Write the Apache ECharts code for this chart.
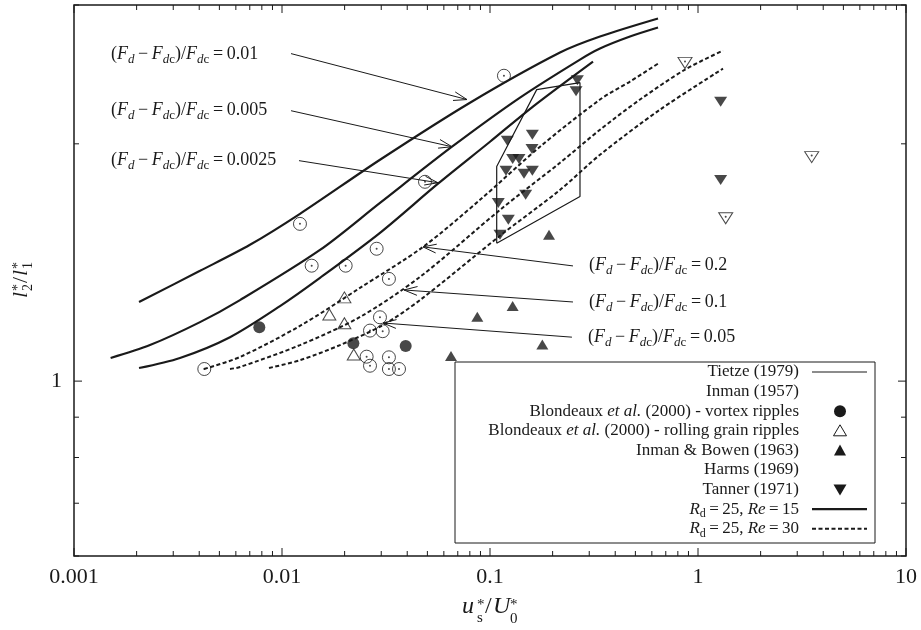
<!DOCTYPE html>
<html><head><meta charset="utf-8">
<script src="https://cdn.jsdelivr.net/npm/echarts@6/dist/echarts.min.js"></script>
<style>html,body{margin:0;padding:0;background:#fff}#c{width:921px;height:630px}</style>
</head><body><div id="c"></div>
<script>
const FONT = '"Liberation Serif","Times New Roman",serif';
const INK = '#1a1a1a';

// ---- axes ----
const xRange = [0.001, 10];
const yRange = [0.6, 3];
const xMajorTicks = [0.001, 0.01, 0.1, 1, 10];
const xTickLabels = ['0.001', '0.01', '0.1', '1', '10'];
const yMajorTicks = [1];
const yTickLabels = ['1'];
const yMinorTicks = [0.6, 0.7, 0.8, 0.9, 2, 3];

// ---- measured data ----
const inman1957 = [[0.1167,2.44],[0.0487,1.79],[0.0122,1.583],[0.01389,1.401],[0.02023,1.401],[0.02851,1.472],
  [0.03266,1.348],[0.004231,1.036],[0.02958,1.205],[0.02649,1.159],[0.03048,1.157],[0.02552,1.074],
  [0.02649,1.046],[0.03266,1.072],[0.03266,1.036],[0.03652,1.036]];
const blondeauxVortex = [[0.00778,1.170],[0.02203,1.117],[0.03932,1.108]];
const blondeauxRolling = [[0.01995,1.277],[0.01689,1.215],[0.01995,1.184],[0.02213,1.081]];
const inmanBowen1963 = [[0.1922,1.533],[0.1285,1.245],[0.0869,1.207],[0.1785,1.113],[0.06494,1.076]];
const harms1969 = [[0.866,2.533],[3.521,1.924],[1.359,1.609]];
const tanner1971 = [[0.2630,2.408],[0.2592,2.332],[0.1598,2.054],[0.1211,2.018],[0.1592,1.970],[0.1285,1.913],
  [0.1378,1.913],[0.1194,1.849],[0.1457,1.832],[0.1598,1.849],[0.1484,1.723],[0.1096,1.682],[0.1225,1.602],
  [0.1117,1.533],[1.285,2.261],[1.285,1.800]];
const tietze1979 = [[0.1077,1.496],[0.1077,1.872],[0.1677,2.343],[0.2708,2.391],[0.2708,1.715],[0.1077,1.496]];

// Rd = 25, Re = 15 (solid)
const re15_001 = [[0.002054,1.260],[0.004035,1.380],[0.007015,1.489],[0.01220,1.630],[0.02959,1.909],
  [0.08013,2.255],[0.2170,2.611],[0.3379,2.736],[0.6424,2.884]];
const re15_0005 = [[0.0015,1.070],[0.002319,1.111],[0.004035,1.188],[0.006281,1.267],[0.01523,1.467],[0.02959,1.683],
  [0.06566,1.983],[0.1394,2.289],[0.2708,2.558],[0.3379,2.642],[0.4710,2.736],[0.6424,2.809]];
const re15_00025 = [[0.002054,1.039],[0.003232,1.070],[0.005623,1.137],[0.009781,1.245],[0.01523,1.352],[0.02959,1.542],
  [0.05623,1.780],[0.1,2.012],[0.1609,2.230],[0.3128,2.543]];
// Rd = 25, Re = 30 (dashed)
const re30_02 = [[0.004217,1.036],[0.006281,1.073],[0.01220,1.175],[0.02371,1.313],[0.04764,1.480],[0.08953,1.698],
  [0.1739,1.983],[0.3379,2.276],[0.4710,2.399],[0.6424,2.528]];
const re30_01 = [[0.005623,1.036],[0.006281,1.042],[0.01220,1.111],[0.02371,1.206],[0.04608,1.356],[0.1117,1.649],
  [0.2170,1.892],[0.3379,2.084],[0.5263,2.276],[0.8660,2.484],[1.319,2.626]];
const re30_005 = [[0.008660,1.039],[0.01220,1.063],[0.01900,1.111],[0.03058,1.178],[0.04608,1.267],[0.1117,1.529],
  [0.2170,1.748],[0.3379,1.937],[0.6568,2.210],[1.319,2.491]];

// annotation arrows: [fromX, fromY, toX, toY]
const annoValues = ['0.01', '0.005', '0.0025', '0.2', '0.1', '0.05'];
const annoArrows = [[0.01105,2.603,0.0775,2.276],[0.01105,2.203,0.06566,1.983],[0.01207,1.904,0.05623,1.785],
  [0.2506,1.400,0.04764,1.480],[0.2506,1.260,0.03859,1.305],[0.2477,1.137,0.03058,1.185]];

const legendLabels = ['Tietze (1979)', 'Inman (1957)', 'Blondeaux et al. (2000) - vortex ripples',
  'Blondeaux et al. (2000) - rolling grain ripples', 'Inman & Bowen (1963)', 'Harms (1969)', 'Tanner (1971)',
  'Rd = 25, Re = 15', 'Rd = 25, Re = 30'];

// ---- helpers ----
function richStyles(fs) {
  const sfs = Math.round(fs * 0.7);
  const b = {fontFamily: FONT, fill: INK, color: INK};
  return {
    n: Object.assign({}, b, {fontSize: fs, lineHeight: fs + 4}),
    i: Object.assign({}, b, {fontSize: fs, fontStyle: 'italic', lineHeight: fs + 4}),
    sub: Object.assign({}, b, {fontSize: sfs, lineHeight: sfs + 2, padding: [Math.round(fs * 0.6), 0, 0, 0]}),
    subi: Object.assign({}, b, {fontSize: sfs, fontStyle: 'italic', lineHeight: sfs + 2, padding: [Math.round(fs * 0.6), 0, 0, 0]})
  };
}
function annoRich(v) {
  return '{n|(}{i|F}{subi|d}{n|\u2009\u2212\u2009}{i|F}{subi|d}{sub|c}{n|)/}{i|F}{subi|d}{sub|c}{n|\u2009=\u2009' + v + '}';
}
function legendRich(label) {
  let m = label.match(/^Rd = (\S+), Re = (\S+)$/);
  if (m) return '{i|R}{sub|d}{n|\u2009=\u2009' + m[1] + ', }{i|Re}{n|\u2009=\u2009' + m[2] + '}';
  const parts = label.split('et al.');
  if (parts.length === 2) return '{n|' + parts[0] + '}{i|et al.}{n|' + parts[1] + '}';
  return '{n|' + label + '}';
}
function labelFor(v, ticks, labels) {
  for (let i = 0; i < ticks.length; i++) {
    if (Math.abs(Math.log10(v) - Math.log10(ticks[i])) < 1e-6) return labels[i];
  }
  return '';
}

// tick items: [x, y, kind] kind 0 x-major, 1 x-minor, 2 y-major, 3 y-minor
const tickItems = [];
xMajorTicks.forEach(v => tickItems.push([v, yRange[0], 0]));
for (let e = -3; e < 1; e++) for (let k = 2; k <= 9; k++) tickItems.push([k * Math.pow(10, e), yRange[0], 1]);
yMajorTicks.forEach(v => tickItems.push([xRange[0], v, 2]));
yMinorTicks.forEach(v => tickItems.push([xRange[0], v, 3]));

const solid = w => ({color: INK, width: w, type: 'solid'});
const dashed = {color: INK, width: 2, type: [4, 2.5]};
function curve(name, data, ls) {
  return {type: 'line', name, data, showSymbol: false, smooth: 0.3, lineStyle: ls, silent: true, z: 3};
}
function pts(name, data, symbol, size, filled, rotate) {
  return {type: 'scatter', name, data, symbol, symbolSize: size, symbolRotate: rotate || 0, silent: true, z: 5,
    itemStyle: filled ? {color: INK} : {color: 'rgba(0,0,0,0)', borderColor: INK, borderWidth: 1}};
}
function dots(data, offset) {
  return {type: 'scatter', data, symbol: 'circle', symbolSize: 2, symbolOffset: offset || [0, 0], silent: true, z: 6,
    itemStyle: {color: INK}};
}

// ---- graphic: legend, annotation labels, axis titles ----
const graphics = [];
const LB = {x: 455, y: 362, w: 420, h: 181};
graphics.push({type: 'rect', shape: {x: LB.x, y: LB.y, width: LB.w, height: LB.h},
  style: {fill: '#fff', stroke: INK, lineWidth: 1}, z: 20});
const rowY0 = 372, rowStep = 19.6, textRight = 799, symX = 840;
legendLabels.forEach((lab, i) => {
  const y = rowY0 + i * rowStep;
  graphics.push({type: 'text', x: textRight, y: y, z: 21,
    style: {text: legendRich(lab), rich: richStyles(17), align: 'right', verticalAlign: 'middle'}});
  let icon = null;
  if (i === 0) icon = {type: 'line', shape: {x1: 812, y1: y, x2: 867, y2: y}, style: {stroke: INK, lineWidth: 1.2}};
  if (i === 7) icon = {type: 'line', shape: {x1: 812, y1: y, x2: 867, y2: y}, style: {stroke: INK, lineWidth: 2.2}};
  if (i === 8) icon = {type: 'line', shape: {x1: 812, y1: y, x2: 867, y2: y}, style: {stroke: INK, lineWidth: 2, lineDash: [4, 2.5]}};
  if (i === 1) icon = {type: 'group', children: [
    {type: 'circle', shape: {cx: symX, cy: y, r: 6.3}, style: {fill: 'none', stroke: INK, lineWidth: 1}},
    {type: 'circle', shape: {cx: symX, cy: y, r: 0.9}, style: {fill: INK}}]};
  if (i === 2) icon = {type: 'circle', shape: {cx: symX, cy: y, r: 6}, style: {fill: INK}};
  if (i === 3) icon = {type: 'polygon', shape: {points: [[symX, y - 6], [symX + 6.5, y + 5], [symX - 6.5, y + 5]]}, style: {fill: 'none', stroke: INK, lineWidth: 1}};
  if (i === 4) icon = {type: 'polygon', shape: {points: [[symX, y - 6], [symX + 6, y + 5], [symX - 6, y + 5]]}, style: {fill: INK}};
  if (i === 5) icon = {type: 'group', children: [
    {type: 'polygon', shape: {points: [[symX, y + 6], [symX + 7, y - 5], [symX - 7, y - 5]]}, style: {fill: 'none', stroke: INK, lineWidth: 1}},
    {type: 'circle', shape: {cx: symX, cy: y - 1.5, r: 0.9}, style: {fill: INK}}]};
  if (i === 6) icon = {type: 'polygon', shape: {points: [[symX, y + 6], [symX + 6.5, y - 5], [symX - 6.5, y - 5]]}, style: {fill: INK}};
  if (icon) { icon.z = 21; graphics.push(icon); }
});
const annoPos = [[111, 54], [111, 110], [111, 160], [589, 265], [589, 302], [588, 337]];
annoValues.forEach((v, i) => {
  graphics.push({type: 'text', x: annoPos[i][0], y: annoPos[i][1], z: 10,
    style: {text: annoRich(v), rich: richStyles(18), align: 'left', verticalAlign: 'middle'}});
});
function t(str, x, y, size, italic) {
  return {type: 'text', x, y, style: {text: str, font: (italic ? 'italic ' : '') + size + 'px ' + FONT, fill: INK,
    align: 'left', verticalAlign: 'middle'}};
}
// x axis title u*_s / U*_0
graphics.push({type: 'group', z: 10, children: [
  t('u', 462, 607, 24, true), t('*', 477, 605, 15), t('s', 477, 618, 15),
  t('/', 485, 607, 24), t('U', 493, 607, 24, true), t('*', 510, 605, 15), t('0', 510, 619, 15)
]});
// y axis title l*_2 / l*_1 (rotated)
graphics.push({type: 'group', x: 21, y: 281, rotation: Math.PI / 2, z: 10, children: [
  t('l', -17, 0, 22, true), t('*', -10, -3, 14), t('2', -10, 7, 14),
  t('/', -2, 0, 22), t('l', 5, 0, 22, true), t('*', 12, -3, 14), t('1', 12, 7, 14)
]});

const option = {
  animation: false,
  backgroundColor: '#fff',
  grid: {left: 74, right: 15, top: 5, bottom: 74, show: true, borderColor: INK, borderWidth: 1.5, backgroundColor: 'transparent'},
  xAxis: {type: 'log', logBase: 10, min: xRange[0], max: xRange[1],
    axisLine: {show: false}, axisTick: {show: false}, splitLine: {show: false}, minorTick: {show: false},
    axisLabel: {fontFamily: FONT, fontSize: 22, color: INK, margin: 10,
      formatter: v => labelFor(v, xMajorTicks, xTickLabels)}},
  yAxis: {type: 'log', logBase: 10, min: yRange[0], max: yRange[1],
    axisLine: {show: false}, axisTick: {show: false}, splitLine: {show: false}, minorTick: {show: false},
    axisLabel: {fontFamily: FONT, fontSize: 22, color: INK, margin: 12,
      formatter: v => labelFor(v, yMajorTicks, yTickLabels)}},
  series: [
    curve('Rd = 25, Re = 15', re15_001, solid(2.2)),
    curve('Rd = 25, Re = 15 (0.005)', re15_0005, solid(2.2)),
    curve('Rd = 25, Re = 15 (0.0025)', re15_00025, solid(2.2)),
    curve('Rd = 25, Re = 30', re30_02, dashed),
    curve('Rd = 25, Re = 30 (0.1)', re30_01, dashed),
    curve('Rd = 25, Re = 30 (0.05)', re30_005, dashed),
    {type: 'line', name: 'Tietze (1979)', data: tietze1979, showSymbol: false, smooth: false,
      lineStyle: solid(1.2), silent: true, z: 4},
    pts('Inman (1957)', inman1957, 'circle', 13, false), dots(inman1957),
    pts('Blondeaux et al. (2000) - vortex ripples', blondeauxVortex, 'circle', 12, true),
    pts('Blondeaux et al. (2000) - rolling grain ripples', blondeauxRolling, 'triangle', [13, 11], false),
    pts('Inman & Bowen (1963)', inmanBowen1963, 'triangle', [12, 10], true),
    pts('Harms (1969)', harms1969, 'triangle', [14, 11], false, 180), dots(harms1969, [0, -1.5]),
    pts('Tanner (1971)', tanner1971, 'triangle', [13, 10], true, 180),
    {type: 'custom', name: 'annotations', data: annoArrows, silent: true, z: 8,
      renderItem: function (params, api) {
        const p0 = api.coord([api.value(0), api.value(1)]);
        const p1 = api.coord([api.value(2), api.value(3)]);
        const a = Math.atan2(p1[1] - p0[1], p1[0] - p0[0]);
        const L = 14, h = 0.32;
        const l = [p1[0] - L * Math.cos(a - h), p1[1] - L * Math.sin(a - h)];
        const r = [p1[0] - L * Math.cos(a + h), p1[1] - L * Math.sin(a + h)];
        return {type: 'group', children: [
          {type: 'line', shape: {x1: p0[0], y1: p0[1], x2: p1[0], y2: p1[1]}, style: {stroke: INK, lineWidth: 1}},
          {type: 'polyline', shape: {points: [l, p1, r]}, style: {stroke: INK, lineWidth: 1, fill: 'none'}}
        ]};
      }},
    {type: 'custom', name: 'ticks', data: tickItems, silent: true, z: 9,
      renderItem: function (params, api) {
        const kind = api.value(2);
        const st = {stroke: INK, lineWidth: 1};
        if (kind < 2) {
          const len = kind === 0 ? 8 : 5;
          const pb = api.coord([api.value(0), yRange[0]]);
          const pt = api.coord([api.value(0), yRange[1]]);
          return {type: 'group', children: [
            {type: 'line', shape: {x1: pb[0], y1: pb[1], x2: pb[0], y2: pb[1] - len}, style: st},
            {type: 'line', shape: {x1: pt[0], y1: pt[1], x2: pt[0], y2: pt[1] + len}, style: st}]};
        }
        const len = kind === 2 ? 8 : 5;
        const pl = api.coord([xRange[0], api.value(1)]);
        const pr = api.coord([xRange[1], api.value(1)]);
        return {type: 'group', children: [
          {type: 'line', shape: {x1: pl[0], y1: pl[1], x2: pl[0] + len, y2: pl[1]}, style: st},
          {type: 'line', shape: {x1: pr[0], y1: pr[1], x2: pr[0] - len, y2: pr[1]}, style: st}]};
      }}
  ],
  graphic: graphics
};
const chart = echarts.init(document.getElementById('c'));
chart.setOption(option);
</script></body></html>
